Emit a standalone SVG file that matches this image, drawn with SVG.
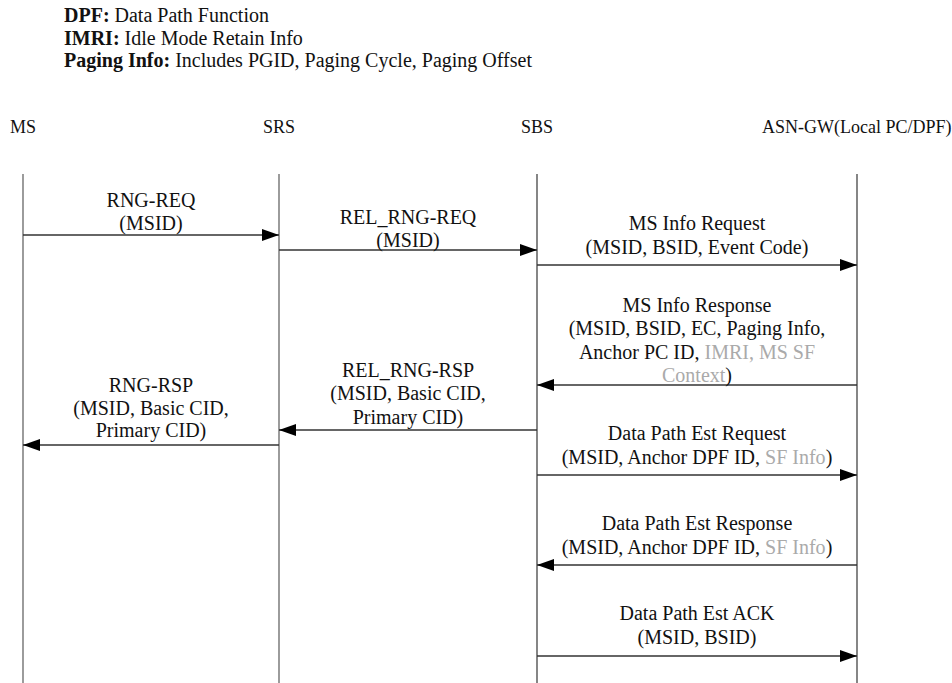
<svg xmlns="http://www.w3.org/2000/svg" width="952" height="683" viewBox="0 0 952 683" font-family="'Liberation Serif', 'Times New Roman', serif">
<style>
text{font-family:"Liberation Serif","Times New Roman",serif;fill:#111}
.hd{font-size:20px}
.b{font-weight:bold}
.lbl{font-size:18px}
.m{font-size:20px;text-anchor:middle}
.g{fill:#aaa}
.life{stroke:#666;stroke-width:1.3;fill:none}
.life2{stroke:#222;stroke-width:1.1;fill:none}
.msg{stroke:#333;stroke-width:1.3;fill:none}
</style>
<defs>
<marker id="ah" markerUnits="userSpaceOnUse" markerWidth="18" markerHeight="12" refX="17" refY="6" orient="auto">
<path d="M0,0 L17,6 L0,12 z" fill="#000"/>
</marker>
</defs>
<g id="legend">
<text class="hd" x="64" y="22"><tspan class="b">DPF:</tspan> Data Path Function</text>
<text class="hd" x="64" y="45"><tspan class="b">IMRI:</tspan> Idle Mode Retain Info</text>
<text class="hd" x="64" y="67"><tspan class="b">Paging Info:</tspan> Includes PGID, Paging Cycle, Paging Offset</text>
</g>
<g id="MS">
<text class="lbl" x="10" y="133">MS</text>
<line class="life" x1="23" y1="174" x2="23" y2="683"/>
</g>
<g id="SRS">
<text class="lbl" x="279" y="133" text-anchor="middle">SRS</text>
<line class="life" x1="279" y1="174" x2="279" y2="683"/>
</g>
<g id="SBS">
<text class="lbl" x="537" y="133" text-anchor="middle">SBS</text>
<line class="life2" x1="537" y1="174" x2="537" y2="683"/>
</g>
<g id="ASNGW">
<text class="lbl" x="762" y="133">ASN-GW(Local PC/DPF)</text>
<line class="life2" x1="857" y1="174" x2="857" y2="683"/>
</g>
<g id="connectors">
<line class="msg" x1="23" y1="235" x2="279" y2="235" marker-end="url(#ah)"/>
<line class="msg" x1="279" y1="250" x2="537" y2="250" marker-end="url(#ah)"/>
<line class="msg" x1="537" y1="265" x2="857" y2="265" marker-end="url(#ah)"/>
<line class="msg" x1="857" y1="385" x2="537" y2="385" marker-end="url(#ah)"/>
<line class="msg" x1="537" y1="430" x2="279" y2="430" marker-end="url(#ah)"/>
<line class="msg" x1="279" y1="445" x2="23" y2="445" marker-end="url(#ah)"/>
<line class="msg" x1="537" y1="475" x2="857" y2="475" marker-end="url(#ah)"/>
<line class="msg" x1="857" y1="565" x2="537" y2="565" marker-end="url(#ah)"/>
<line class="msg" x1="537" y1="656" x2="857" y2="656" marker-end="url(#ah)"/>
</g>
<g id="labels">
<text class="m" x="151" y="207">RNG-REQ</text>
<text class="m" x="151" y="230">(MSID)</text>
<text class="m" x="408" y="224">REL_RNG-REQ</text>
<text class="m" x="408" y="247">(MSID)</text>
<text class="m" x="697" y="230">MS Info Request</text>
<text class="m" x="697" y="254">(MSID, BSID, Event Code)</text>
<text class="m" x="697" y="312">MS Info Response</text>
<text class="m" x="697" y="335">(MSID, BSID, EC, Paging Info,</text>
<text class="m" x="697" y="359">Anchor PC ID, <tspan class="g">IMRI, MS SF</tspan></text>
<text class="m" x="697" y="382"><tspan class="g">Context</tspan>)</text>
<text class="m" x="408" y="377">REL_RNG-RSP</text>
<text class="m" x="408" y="400">(MSID, Basic CID,</text>
<text class="m" x="408" y="424">Primary CID)</text>
<text class="m" x="151" y="392">RNG-RSP</text>
<text class="m" x="151" y="415">(MSID, Basic CID,</text>
<text class="m" x="151" y="437">Primary CID)</text>
<text class="m" x="697" y="440">Data Path Est Request</text>
<text class="m" x="697" y="464">(MSID, Anchor DPF ID, <tspan class="g">SF Info</tspan>)</text>
<text class="m" x="697" y="530">Data Path Est Response</text>
<text class="m" x="697" y="554">(MSID, Anchor DPF ID, <tspan class="g">SF Info</tspan>)</text>
<text class="m" x="697" y="620">Data Path Est ACK</text>
<text class="m" x="697" y="644">(MSID, BSID)</text>
</g>
</svg>
